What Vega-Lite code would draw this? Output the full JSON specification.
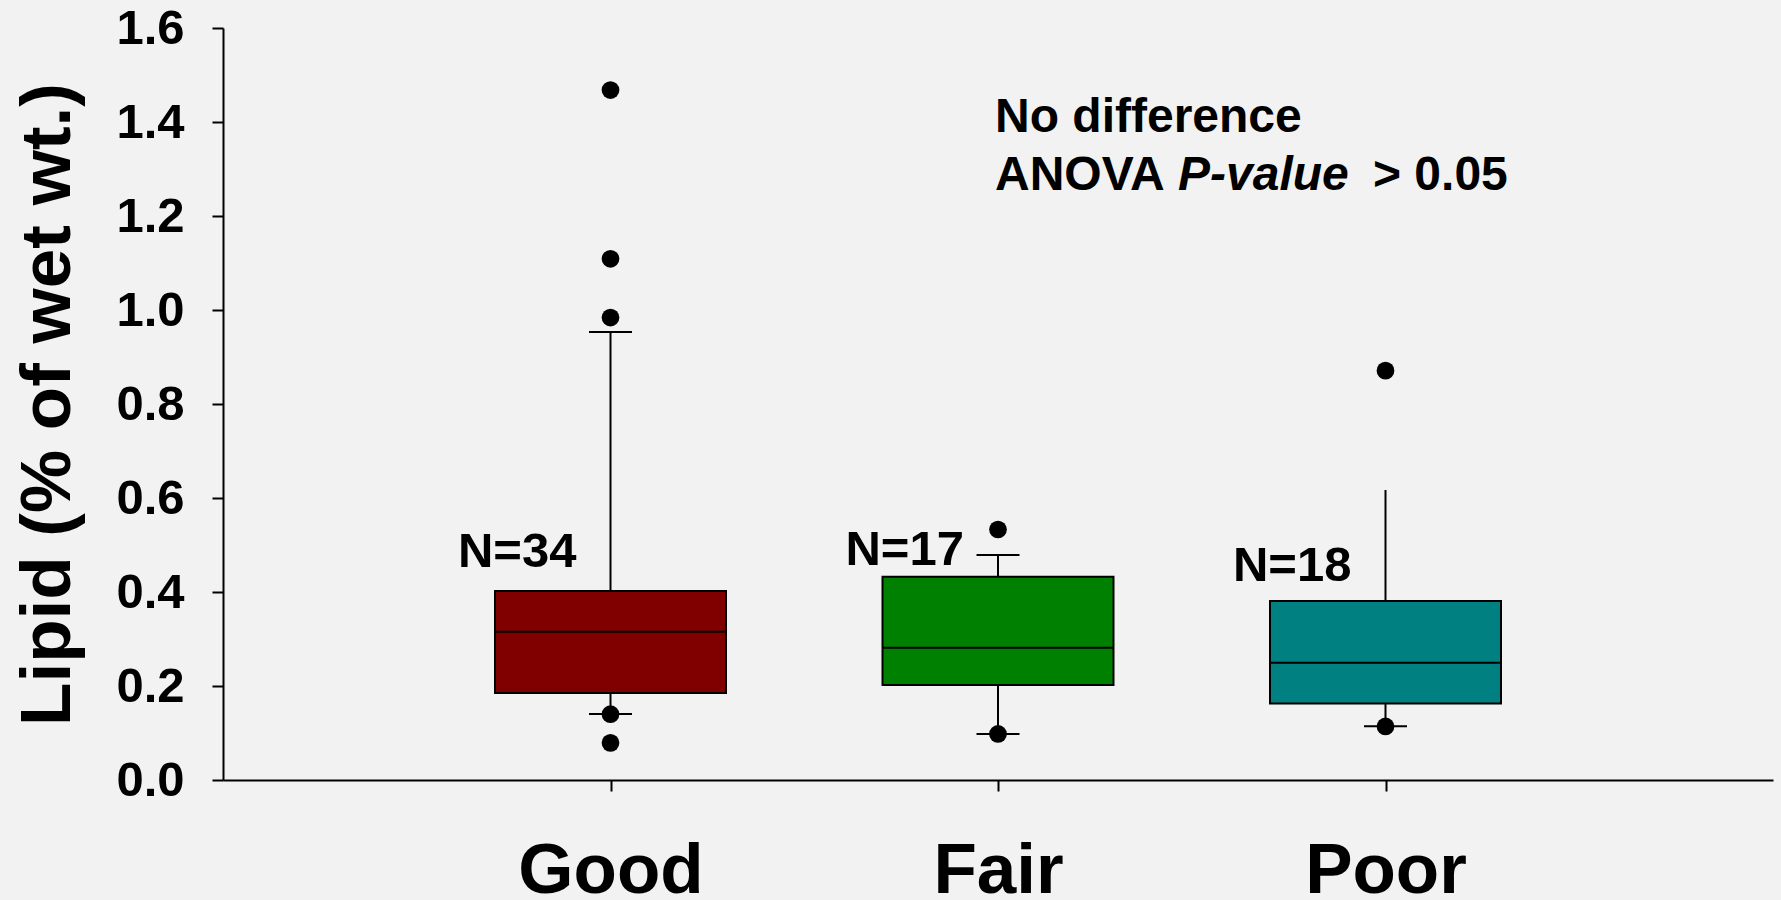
{
  "$schema": "https://vega.github.io/schema/vega-lite/v6.json",
  "width": 1550,
  "height": 752,
  "autosize": {"type": "none"},
  "padding": {"left": 223, "top": 28, "right": 8, "bottom": 120},
  "background": "#f2f2f2",
  "config": {
    "view": {"stroke": null},
    "font": "Liberation Sans",
    "axisX": {
      "labelFont": "Liberation Sans", "labelFontSize": 71, "labelFontWeight": "bold", "labelLimit": 0,
      "labelColor": "black", "labelAngle": 0, "labelPadding": 45, "tickSize": 11, "tickColor": "black",
      "tickWidth": 2, "domainColor": "black", "domainWidth": 2, "grid": false
    },
    "axisY": {
      "grid": false, "domainColor": "black", "domainWidth": 2, "tickColor": "black", "tickWidth": 2, "tickSize": 11,
      "labelFont": "Liberation Sans", "labelFontSize": 49, "labelFontWeight": "bold", "labelColor": "black",
      "labelPadding": 28, "labelFlush": false, "labelOverlap": false,
      "titleFont": "Liberation Sans", "titleFontSize": 71, "titleFontWeight": "bold", "titleColor": "black",
      "titleAngle": 270, "titleX": -154, "titleY": 376, "titleAlign": "center", "titleBaseline": "alphabetic"
    }
  },
  "datasets": {
    "boxes": [
      {"cond": "Good", "lo": 0.1404, "q1": 0.185, "med": 0.3155, "q3": 0.402, "hi": 0.953},
      {"cond": "Fair", "lo": 0.0979, "q1": 0.2021, "med": 0.2816, "q3": 0.4326, "hi": 0.4787},
      {"cond": "Poor", "lo": 0.1142, "q1": 0.163, "med": 0.2496, "q3": 0.381, "hi": 0.617}
    ],
    "caps": [
      {"cond": "Good", "v": 0.953},
      {"cond": "Good", "v": 0.1404},
      {"cond": "Fair", "v": 0.4787},
      {"cond": "Fair", "v": 0.0979},
      {"cond": "Poor", "v": 0.1142}
    ],
    "outliers": [
      {"cond": "Good", "v": 1.468},
      {"cond": "Good", "v": 1.109},
      {"cond": "Good", "v": 0.984},
      {"cond": "Good", "v": 0.14},
      {"cond": "Good", "v": 0.079},
      {"cond": "Fair", "v": 0.533},
      {"cond": "Fair", "v": 0.098},
      {"cond": "Poor", "v": 0.871},
      {"cond": "Poor", "v": 0.114}
    ],
    "counts": [
      {"cond": "Good", "v": 0.453, "label": "N=34"},
      {"cond": "Fair", "v": 0.457, "label": "N=17"},
      {"cond": "Poor", "v": 0.423, "label": "N=18"}
    ],
    "notePlain": [
      {"cond": "Fair", "v": 1.379, "label": "No difference"},
      {"cond": "Fair", "v": 1.255, "label": "ANOVA"}
    ],
    "noteItalic": [
      {"cond": "Fair", "v": 1.255, "label": "P-value"}
    ],
    "noteTail": [
      {"cond": "Fair", "v": 1.255, "label": "> 0.05"}
    ]
  },
  "layer": [
    {
      "data": {"name": "boxes"},
      "mark": {"type": "rule", "color": "black", "strokeWidth": 2},
      "encoding": {
        "x": {
          "field": "cond", "type": "nominal", "title": null,
          "scale": {"type": "point", "domain": ["Good", "Fair", "Poor"], "padding": 1}
        },
        "y": {
          "field": "lo", "type": "quantitative",
          "scale": {"domain": [0, 1.6], "nice": false, "zero": true},
          "title": "Lipid (% of wet wt.)",
          "axis": {"values": [0, 0.2, 0.4, 0.6, 0.8, 1, 1.2, 1.4, 1.6], "format": ".1f"}
        },
        "y2": {"field": "q1"}
      }
    },
    {
      "data": {"name": "boxes"},
      "mark": {"type": "rule", "color": "black", "strokeWidth": 2},
      "encoding": {
        "x": {"field": "cond", "type": "nominal", "title": null},
        "y": {"field": "q3", "type": "quantitative", "title": "Lipid (% of wet wt.)"},
        "y2": {"field": "hi"}
      }
    },
    {
      "data": {"name": "boxes"},
      "mark": {"type": "bar", "width": 231, "stroke": "black", "strokeWidth": 2, "opacity": 1},
      "encoding": {
        "x": {"field": "cond", "type": "nominal", "title": null},
        "y": {"field": "q1", "type": "quantitative", "title": "Lipid (% of wet wt.)"},
        "y2": {"field": "q3"},
        "color": {
          "field": "cond", "type": "nominal",
          "scale": {"domain": ["Good", "Fair", "Poor"], "range": ["#800000", "#008000", "#008080"]},
          "legend": null
        }
      }
    },
    {
      "data": {"name": "boxes"},
      "mark": {"type": "tick", "size": 231, "thickness": 2, "color": "black", "opacity": 1},
      "encoding": {
        "x": {"field": "cond", "type": "nominal", "title": null},
        "y": {"field": "med", "type": "quantitative", "title": "Lipid (% of wet wt.)"}
      }
    },
    {
      "data": {"name": "caps"},
      "mark": {"type": "tick", "size": 43, "thickness": 2, "color": "black", "opacity": 1},
      "encoding": {
        "x": {"field": "cond", "type": "nominal", "title": null},
        "y": {"field": "v", "type": "quantitative", "title": "Lipid (% of wet wt.)"}
      }
    },
    {
      "data": {"name": "outliers"},
      "mark": {"type": "point", "shape": "circle", "filled": true, "size": 314, "color": "black", "opacity": 1},
      "encoding": {
        "x": {"field": "cond", "type": "nominal", "title": null},
        "y": {"field": "v", "type": "quantitative", "title": "Lipid (% of wet wt.)"}
      }
    },
    {
      "data": {"name": "counts"},
      "mark": {"type": "text", "align": "right", "baseline": "alphabetic", "dx": -34, "font": "Liberation Sans", "fontSize": 49, "fontWeight": "bold", "color": "black"},
      "encoding": {
        "x": {"field": "cond", "type": "nominal", "title": null},
        "y": {"field": "v", "type": "quantitative", "title": "Lipid (% of wet wt.)"},
        "text": {"field": "label"}
      }
    },
    {
      "data": {"name": "notePlain"},
      "mark": {"type": "text", "align": "left", "baseline": "alphabetic", "dx": -3, "font": "Liberation Sans", "fontSize": 48, "fontWeight": "bold", "color": "black"},
      "encoding": {
        "x": {"field": "cond", "type": "nominal", "title": null},
        "y": {"field": "v", "type": "quantitative", "title": "Lipid (% of wet wt.)"},
        "text": {"field": "label"}
      }
    },
    {
      "data": {"name": "noteItalic"},
      "mark": {"type": "text", "align": "left", "baseline": "alphabetic", "dx": 180, "font": "Liberation Sans", "fontSize": 48, "fontWeight": "bold", "fontStyle": "italic", "color": "black"},
      "encoding": {
        "x": {"field": "cond", "type": "nominal", "title": null},
        "y": {"field": "v", "type": "quantitative", "title": "Lipid (% of wet wt.)"},
        "text": {"field": "label"}
      }
    },
    {
      "data": {"name": "noteTail"},
      "mark": {"type": "text", "align": "left", "baseline": "alphabetic", "dx": 375, "font": "Liberation Sans", "fontSize": 48, "fontWeight": "bold", "color": "black"},
      "encoding": {
        "x": {"field": "cond", "type": "nominal", "title": null},
        "y": {"field": "v", "type": "quantitative", "title": "Lipid (% of wet wt.)"},
        "text": {"field": "label"}
      }
    }
  ]
}
